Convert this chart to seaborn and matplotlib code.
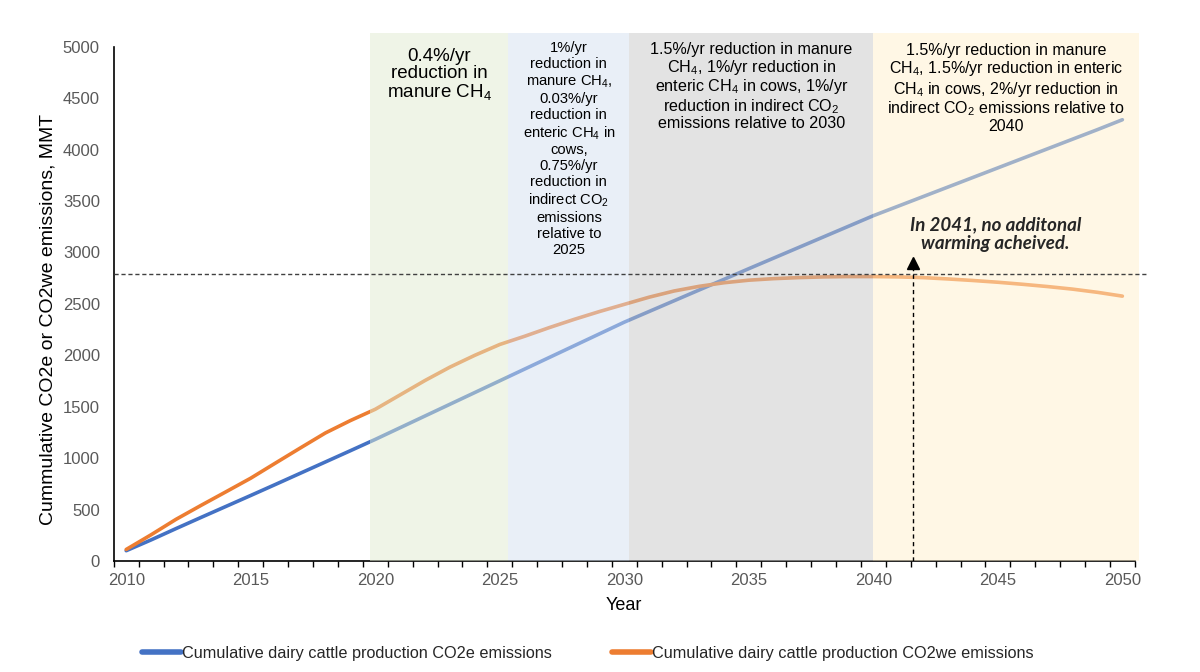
import matplotlib
matplotlib.use('Agg')
import matplotlib.pyplot as plt
import seaborn as sns
import numpy as np
import pandas as pd

# data
years = list(range(2010, 2051))
co2e = [100, 205, 315, 423, 530, 637, 745, 854, 963, 1072, 1182,
        1296, 1410, 1524, 1638, 1752, 1866, 1980, 2094, 2208, 2322,
        2426, 2530, 2634, 2738, 2842, 2945, 3048, 3151, 3254, 3357,
        3450, 3543, 3636, 3729, 3822, 3915, 4008, 4101, 4194, 4290]
co2we = [112, 255, 405, 540, 672, 805, 953, 1100, 1245, 1365, 1475,
         1615, 1755, 1885, 2000, 2105, 2185, 2270, 2350, 2425, 2495,
         2565, 2625, 2670, 2705, 2730, 2745, 2755, 2762, 2765, 2765,
         2762, 2755, 2742, 2727, 2710, 2690, 2668, 2643, 2612, 2575]
series_names = ['Cumulative dairy cattle production CO2e emissions',
                'Cumulative dairy cattle production CO2we emissions']
series_colors = ['#4472C4', '#ED7D31']

# policy periods: start, end, overlay colour, text
period_edges = [2019.8, 2025.35, 2030.2, 2040.0, 2050.65]
period_colors = ['#E1EBD1', '#D5E1F1', '#C9C9C9', '#FFF1CD']
period_texts = [
    '0.4%/yr\nreduction in\nmanure CH$_\\mathregular{4}$',
    '1%/yr\nreduction in\nmanure CH$_\\mathregular{4}$,\n0.03%/yr\nreduction in\n'
    'enteric CH$_\\mathregular{4}$ in\ncows,\n0.75%/yr\nreduction in\n'
    'indirect CO$_\\mathregular{2}$\nemissions\nrelative to\n2025',
    '1.5%/yr reduction in manure\nCH$_\\mathregular{4}$, 1%/yr reduction in\n'
    'enteric CH$_\\mathregular{4}$ in cows, 1%/yr\nreduction in indirect CO$_\\mathregular{2}$\n'
    'emissions relative to 2030',
    '1.5%/yr reduction in manure\nCH$_\\mathregular{4}$, 1.5%/yr reduction in enteric\n'
    'CH$_\\mathregular{4}$ in cows, 2%/yr reduction in\nindirect CO$_\\mathregular{2}$ emissions relative to\n2040',
]
period_text_y = [4720, 4005, 4611, 4590]
period_text_size = [13.5, 10.6, 11.6, 11.5]
period_text_spacing = [1.02, 1.17, 1.05, 1.08]

threshold = 2790
arrow_year = 2041.6
arrow_top = 2900
note = 'In 2041, no additonal\nwarming acheived.'
note_xy = (2044.9, 3180)

x_labels = list(range(2010, 2051, 5))
y_ticks = list(range(0, 5001, 500))

df = pd.DataFrame({'Year': years, series_names[0]: co2e, series_names[1]: co2we})

sns.set_style('white')
plt.rcParams['font.family'] = ['Liberation Sans', 'DejaVu Sans']

fig = plt.figure(figsize=(12, 6.72), dpi=100)
ax = fig.add_axes([0.0948, 0.1652, 0.8509, 0.7653])

for name, col in zip(series_names, series_colors):
    sns.lineplot(data=df, x='Year', y=name, color=col, lw=2.6, ax=ax,
                 label=name, zorder=2)

# shaded periods drawn over the lines, as in the original
for i in range(4):
    ax.axvspan(period_edges[i], period_edges[i + 1], ymin=0, ymax=1.027,
               color=period_colors[i], alpha=0.5, lw=0, zorder=3, clip_on=False)
    xc = (period_edges[i] + period_edges[i + 1]) / 2
    ax.text(xc, period_text_y[i], period_texts[i], ha='center', va='center',
            fontsize=period_text_size[i], linespacing=period_text_spacing[i],
            color='black', zorder=6)

ax.plot([2009.5, 2051.0], [threshold, threshold], ls=(0, (3, 2)), color='#404040',
        lw=1, zorder=4, clip_on=False)
ax.plot([arrow_year, arrow_year], [0, arrow_top - 40], ls=(0, (3, 2.5)), color='black',
        lw=1, zorder=4)
ax.plot([arrow_year], [arrow_top], marker='^', ms=8, color='black', zorder=5)
ax.text(note_xy[0], note_xy[1], note, ha='center', va='center', fontsize=13.5,
        fontweight='bold', fontstyle='italic', family=['Lato', 'DejaVu Sans'],
        linespacing=1.15, zorder=6)

ax.set_xlim(2009.5, 2050.5)
ax.set_ylim(0, 5000)
ax.set_xticks(x_labels)
ax.set_xticklabels([str(x) for x in x_labels])
ax.set_xticks(np.arange(2009.5, 2051, 1), minor=True)
ax.set_yticks(y_ticks)
ax.tick_params(axis='x', which='major', length=0, pad=9, labelsize=12, labelcolor='#595959')
ax.tick_params(axis='x', which='minor', length=4, width=1, color='black', direction='out',
               bottom=True)
ax.tick_params(axis='y', length=0, pad=10, labelsize=12, labelcolor='#595959')

for s in ['top', 'right']:
    ax.spines[s].set_visible(False)
for s in ['left', 'bottom']:
    ax.spines[s].set_color('black')
    ax.spines[s].set_linewidth(1.2)

ax.set_ylabel('Cummulative CO2e or CO2we emissions, MMT', fontsize=14, color='black')
ax.yaxis.set_label_coords(-0.056, 0.47)
ax.set_xlabel('Year', fontsize=13, color='black')
ax.xaxis.set_label_coords(0.5, -0.07)

handles, labels = ax.get_legend_handles_labels()
ax.get_legend().remove()
leg = fig.legend(handles, labels, loc='center', bbox_to_anchor=(0.49, 0.028), ncol=2,
                 frameon=False, handlelength=2.4, handletextpad=0.05, columnspacing=3.7,
                 prop={'size': 11.7})
for h in leg.legend_handles:
    h.set_linewidth(4)

fig.savefig('out.png', dpi=100)
